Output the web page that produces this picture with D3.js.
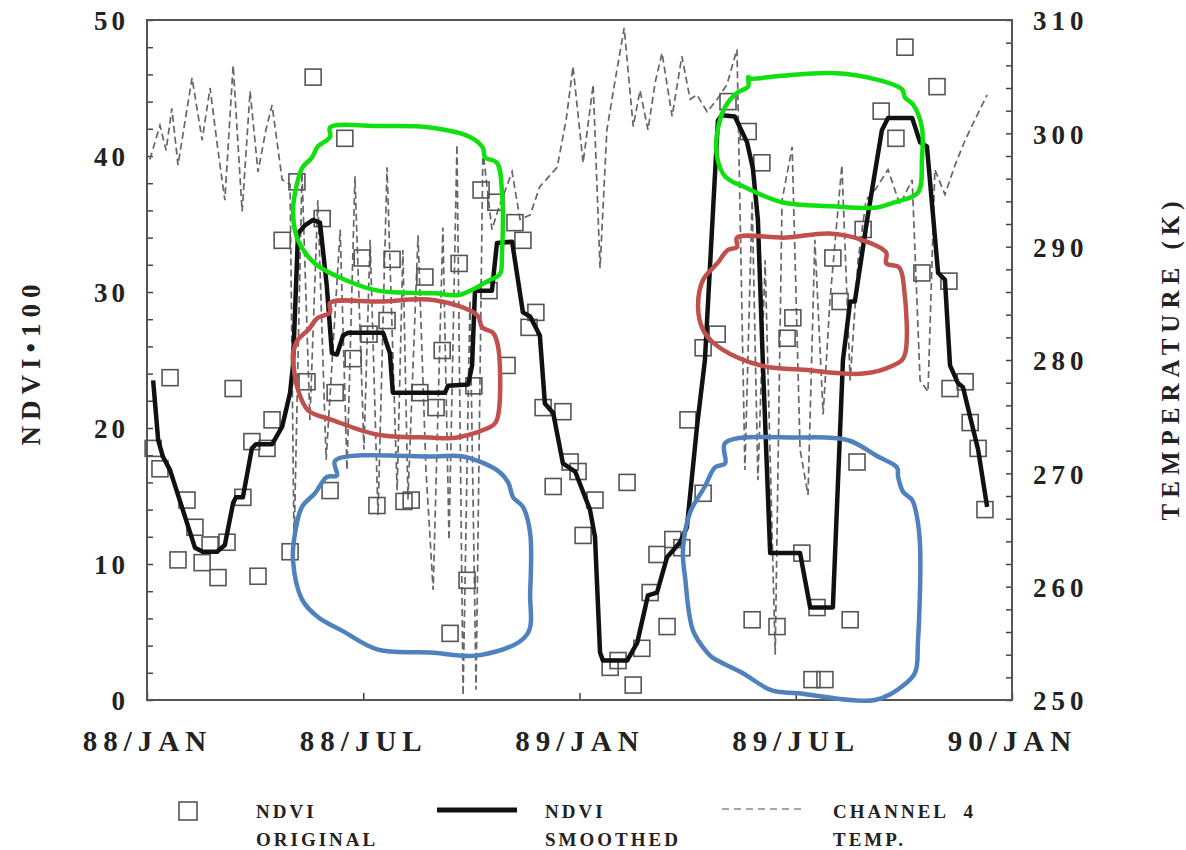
<!DOCTYPE html>
<html>
<head>
<meta charset="utf-8">
<script src="https://cdn.jsdelivr.net/npm/d3@7"></script>
<style>
  body { margin: 0; background: #fff; }
  svg { display: block; }
  .tick text { font-family: "Liberation Serif", "DejaVu Serif", serif; font-weight: bold; fill: #222; }
  .lbl { font-family: "Liberation Serif", "DejaVu Serif", serif; font-weight: bold; fill: #222; }
</style>
</head>
<body>
<div id="chart"></div>
<script>
// x values are months after 88/JAN
const xTickMonth = [0, 6, 12, 18, 24];
const xTickLabel = ['88/JAN', '88/JUL', '89/JAN', '89/JUL', '90/JAN'];

// NDVI original (squares)
const origMonth = [0.17,0.36,0.64,0.86,1.11,1.33,1.53,1.75,1.97,2.22,2.39,2.66,2.91,3.08,3.33,3.47,3.75,3.97,4.16,4.44,4.61,4.86,5.08,5.22,5.49,5.72,5.97,6.16,6.38,6.66,6.80,7.13,7.33,7.57,7.71,8.02,8.19,8.41,8.66,8.88,9.07,9.27,9.49,9.68,9.99,10.21,10.43,10.60,10.79,10.99,11.27,11.54,11.74,11.96,12.10,12.43,12.85,13.07,13.32,13.49,13.73,13.96,14.15,14.43,14.59,14.84,15.01,15.43,15.43,15.82,16.12,16.68,16.79,17.06,17.48,17.76,17.92,18.17,18.45,18.59,18.81,19.03,19.23,19.51,19.70,19.87,20.37,20.78,21.03,21.50,21.92,22.25,22.28,22.70,22.84,23.06,23.25];
const origNdvi  = [18.5,17.0,23.7,10.3,14.7,12.7,10.1,11.4,9.0,11.6,22.9,14.9,19.0,9.1,18.5,20.6,33.8,10.9,38.1,23.4,45.8,35.4,15.4,22.6,41.3,25.1,32.5,26.9,14.3,27.9,32.4,14.6,14.7,22.6,31.1,21.5,25.7,4.9,32.1,8.8,23.1,37.5,30.1,36.6,24.6,35.1,33.8,27.4,28.5,21.5,15.7,21.2,17.5,16.8,12.1,14.7,2.4,2.9,16.0,1.1,3.8,7.9,10.7,5.4,11.8,11.2,20.6,15.2,25.9,26.9,44.0,41.8,5.9,39.5,5.4,26.6,28.1,10.8,1.5,6.8,1.5,32.5,29.3,5.9,17.5,34.6,43.3,41.3,48.0,31.4,45.1,30.8,22.9,23.4,20.4,18.5,14.0];

// NDVI smoothed (thick line)
const smoothMonth = [0.17,0.31,0.44,0.64,1.33,1.55,1.94,2.16,2.39,2.47,2.66,2.91,3.02,3.47,3.75,3.97,4.05,4.19,4.38,4.61,4.80,4.99,5.13,5.27,5.44,5.58,6.55,6.74,6.82,8.27,8.35,8.91,9.02,9.10,9.57,9.71,10.13,10.43,10.63,10.90,11.04,11.27,11.54,11.88,12.29,12.43,12.57,12.65,13.32,13.60,13.90,14.15,14.43,14.79,14.98,15.26,15.48,15.84,15.95,16.31,16.65,16.81,16.95,17.09,17.29,18.12,18.40,19.03,19.31,19.51,19.64,19.98,20.39,20.56,21.23,21.45,21.64,21.95,22.14,22.28,22.50,22.64,23.06,23.31];
const smoothNdvi  = [23.5,19.1,17.9,16.9,11.2,10.9,10.9,11.4,14.5,14.9,14.9,18.5,18.8,18.8,20.1,22.6,24.6,34.3,34.9,35.3,35.1,30.4,25.5,25.4,26.8,27.0,27.0,25.5,22.6,22.6,23.1,23.2,24.6,30.1,30.1,33.6,33.7,28.5,28.2,26.8,21.8,21.1,17.4,16.8,14.0,12.0,3.5,2.9,2.9,4.2,7.7,7.9,10.5,11.6,12.7,20.1,25.0,42.6,43.0,42.9,41.0,39.1,35.3,24.6,10.8,10.8,6.8,6.8,25.0,29.3,29.3,35.3,41.9,42.8,42.8,41.0,40.7,31.4,30.9,24.6,23.3,23.0,18.4,14.2];

// Channel 4 temperature (K), dashed
const tempMonth = [0.08,0.36,0.53,0.69,0.86,1.25,1.53,1.75,1.97,2.16,2.39,2.64,2.86,3.08,3.30,3.47,3.75,3.97,4.08,4.30,4.52,4.74,4.97,5.36,5.55,5.77,6.02,6.19,6.41,6.66,6.94,7.10,7.24,7.52,7.74,7.94,8.21,8.38,8.60,8.77,8.96,9.13,9.32,9.57,9.79,10.13,10.35,10.63,10.90,11.38,11.63,11.82,12.10,12.38,12.57,12.76,12.99,13.24,13.49,13.68,13.90,14.10,14.29,14.57,14.84,15.07,15.26,15.54,15.82,16.09,16.37,16.59,16.79,16.95,17.15,17.43,17.62,17.90,18.12,18.34,18.53,18.76,18.95,19.28,19.51,19.73,19.95,20.20,20.56,20.89,21.23,21.45,21.67,21.86,22.14,22.42,22.70,22.97,23.31];
const tempK     = [297.7,300.7,298.5,302.2,297.2,304.9,299.4,304.0,298.5,294.1,306.0,293.1,303.7,296.6,300.3,302.5,295.9,295.5,263.7,296.6,274.7,294.1,271.2,291.5,270.3,296.2,272.1,290.6,266.3,297.0,268.5,289.7,267.7,291.0,270.3,259.7,291.7,264.1,299.0,250.4,285.3,250.9,298.5,291.5,293.7,296.6,292.4,292.8,295.3,297.0,301.2,305.9,297.4,304.3,288.1,300.3,304.7,309.3,300.6,303.8,300.3,304.5,307.1,301.5,306.8,303.0,303.4,301.9,303.0,304.3,307.4,270.3,294.1,269.4,288.8,254.0,294.1,298.8,272.1,268.1,290.6,275.2,285.3,297.2,278.2,288.8,294.1,295.0,296.8,293.7,295.9,278.2,277.2,296.8,294.6,297.2,299.4,301.2,303.4];

// hand-drawn marks over the figure, [month, NDVI]
const greenMarks = [
  [[5.08,42.1],[6.46,42.2],[7.85,42.1],[8.96,41.4],[9.32,40.6],[9.38,39.9],[9.71,39.5],[9.85,37.3],[9.85,32.9],[9.79,31.3],[9.52,30.9],[8.68,29.8],[7.99,29.9],[6.41,30.1],[5.49,30.9],[4.66,32.1],[4.19,33.8],[4.05,35.8],[4.11,37.3],[4.30,39.1],[4.58,39.9],[4.74,40.7],[5.08,41.4]],
  [[16.73,45.7],[17.62,45.9],[19.01,46.1],[20.28,45.6],[20.95,44.9],[21.03,44.3],[21.25,43.8],[21.50,42.1],[21.50,39.7],[21.39,37.3],[20.75,36.6],[20.20,36.2],[19.01,36.3],[17.62,36.6],[16.59,37.7],[16.04,38.5],[15.82,39.9],[15.82,41.7],[16.04,43.6],[16.40,44.7],[16.68,45.1],[16.68,45.8]]
];
const redMarks = [
  [[5.08,29.2],[6.46,29.3],[7.99,29.4],[9.16,28.3],[9.30,27.4],[9.60,27.0],[9.74,26.0],[9.79,22.1],[9.71,20.6],[9.60,20.2],[8.60,19.3],[7.85,19.3],[6.41,19.5],[5.13,20.6],[4.47,21.3],[4.19,22.8],[4.05,25.0],[4.05,25.5],[4.19,26.5],[4.47,27.2],[4.74,28.1],[5.08,28.5]],
  [[16.37,34.0],[17.73,34.0],[18.92,34.3],[19.87,33.8],[20.51,32.9],[20.51,32.1],[20.87,31.8],[21.00,30.4],[21.00,25.2],[20.70,24.6],[19.87,24.0],[18.12,24.3],[17.20,24.5],[16.37,25.2],[15.70,26.3],[15.43,27.2],[15.29,28.9],[15.43,30.9],[15.82,32.1],[16.12,33.1],[16.37,33.3]]
];
const blueMarks = [
  [[5.22,17.6],[7.99,17.9],[8.77,17.9],[9.71,16.9],[10.02,16.0],[10.16,14.9],[10.43,14.2],[10.63,12.3],[10.63,7.9],[10.54,4.8],[9.24,3.3],[7.85,3.5],[6.41,3.7],[5.41,5.1],[4.74,6.1],[4.30,7.4],[4.05,10.3],[4.11,12.3],[4.30,14.2],[4.66,15.2],[4.99,16.4],[5.27,16.5]],
  [[16.04,18.9],[18.06,19.3],[19.45,19.1],[20.28,17.9],[20.81,17.1],[20.84,16.4],[20.98,15.3],[21.23,14.7],[21.36,13.5],[21.45,11.3],[21.39,4.2],[21.31,2.0],[20.95,1.0],[20.20,0.0],[18.06,0.5],[17.34,0.7],[16.51,2.0],[15.70,3.1],[15.54,3.5],[15.15,5.1],[14.93,9.0],[14.87,11.0],[15.07,13.8],[15.48,15.7],[15.76,17.1],[16.04,17.4]]
];

const W = 1186, H = 850;
const plot = { left: 147, right: 1012, top: 20, bottom: 700 };

const svg = d3.select('#chart').append('svg')
    .attr('width', W)
    .attr('height', H)
    .attr('viewBox', `0 0 ${W} ${H}`);

svg.append('rect').attr('width', W).attr('height', H).attr('fill', '#fff');

const x = d3.scaleLinear().domain([0, 24]).range([plot.left, plot.right]);
const yL = d3.scaleLinear().domain([0, 50]).range([plot.bottom, plot.top]);
const yR = d3.scaleLinear().domain([250, 310]).range([plot.bottom, plot.top]);

// Axes (ticks point inward)
const leftAxis = svg.append('g')
    .attr('transform', `translate(${plot.left},0)`)
    .call(d3.axisLeft(yL)
        .tickValues(d3.range(0, 51, 2))
        .tickSize(-6)
        .tickPadding(18)
        .tickFormat(d => d % 10 === 0 ? d : ''));

const rightAxis = svg.append('g')
    .attr('transform', `translate(${plot.right},0)`)
    .call(d3.axisRight(yR)
        .tickValues(d3.range(250, 311, 2))
        .tickSize(-6)
        .tickPadding(21)
        .tickFormat(d => d % 10 === 0 ? d : ''));

const bottomAxis = svg.append('g')
    .attr('transform', `translate(0,${plot.bottom})`)
    .call(d3.axisBottom(x)
        .tickValues(xTickMonth)
        .tickSize(-7)
        .tickPadding(30)
        .tickFormat((d, i) => xTickLabel[i]));

[leftAxis, rightAxis, bottomAxis].forEach(a => {
    a.select('.domain').remove();
    a.selectAll('.tick line').attr('stroke', '#444').attr('stroke-width', 1.5);
});
leftAxis.selectAll('.tick text').style('font-size', '27px').style('letter-spacing', '4px').attr('dy', '0.36em');
rightAxis.selectAll('.tick text').style('font-size', '27px').style('letter-spacing', '5px').attr('dy', '0.36em');
bottomAxis.selectAll('.tick text').style('font-size', '29px').style('letter-spacing', '6px');

// Frame
svg.append('rect')
    .attr('x', plot.left)
    .attr('y', plot.top)
    .attr('width', plot.right - plot.left)
    .attr('height', plot.bottom - plot.top)
    .attr('fill', 'none')
    .attr('stroke', '#555')
    .attr('stroke-width', 2);

// Axis titles
svg.append('text')
    .attr('class', 'lbl')
    .attr('transform', 'translate(40,362) rotate(-90)')
    .attr('text-anchor', 'middle')
    .style('font-size', '27px')
    .style('letter-spacing', '6px')
    .text('NDVI\u2022100');

svg.append('text')
    .attr('class', 'lbl')
    .attr('transform', 'translate(1179,358) rotate(-90)')
    .attr('text-anchor', 'middle')
    .style('font-size', '25px')
    .style('letter-spacing', '6px')
    .text('TEMPERATURE (K)');

// Channel 4 temperature
const tempData = tempMonth.map((m, i) => ({ m, t: tempK[i] }));
svg.append('path')
    .datum(tempData)
    .attr('fill', 'none')
    .attr('stroke', '#666')
    .attr('stroke-width', 1.7)
    .attr('stroke-dasharray', '7,4')
    .attr('d', d3.line().x(d => x(d.m)).y(d => yR(d.t)));

// NDVI original squares
const origData = origMonth.map((m, i) => ({ m, v: origNdvi[i] }));
const sq = 16;
svg.append('g')
    .selectAll('rect')
    .data(origData)
    .enter()
    .append('rect')
    .attr('x', d => x(d.m) - sq / 2)
    .attr('y', d => yL(d.v) - sq / 2)
    .attr('width', sq)
    .attr('height', sq)
    .attr('fill', 'none')
    .attr('stroke', '#555')
    .attr('stroke-width', 1.6);

// NDVI smoothed
const smoothData = smoothMonth.map((m, i) => ({ m, v: smoothNdvi[i] }));
svg.append('path')
    .datum(smoothData)
    .attr('fill', 'none')
    .attr('stroke', '#111')
    .attr('stroke-width', 4.5)
    .attr('stroke-linejoin', 'round')
    .attr('d', d3.line().x(d => x(d.m)).y(d => yL(d.v)));

// Hand-drawn marks
const markLine = d3.line()
    .x(d => x(d[0]))
    .y(d => yL(d[1]))
    .curve(d3.curveCatmullRomClosed.alpha(0.5));
[[greenMarks, '#10e010'], [redMarks, '#c0504d'], [blueMarks, '#4f81bd']].forEach(([marks, color]) => {
    svg.append('g')
        .selectAll('path')
        .data(marks)
        .enter()
        .append('path')
        .attr('d', markLine)
        .attr('fill', 'none')
        .attr('stroke', color)
        .attr('stroke-width', 4.5)
        .attr('stroke-linejoin', 'round');
});

// Legend
const legend = svg.append('g').attr('class', 'legend');
legend.append('rect')
    .attr('x', 179).attr('y', 802)
    .attr('width', 18).attr('height', 18)
    .attr('fill', 'none').attr('stroke', '#555').attr('stroke-width', 1.6);
legend.append('line')
    .attr('x1', 437).attr('x2', 517).attr('y1', 810).attr('y2', 810)
    .attr('stroke', '#111').attr('stroke-width', 5);
legend.append('line')
    .attr('x1', 722).attr('x2', 806).attr('y1', 809).attr('y2', 809)
    .attr('stroke', '#888').attr('stroke-width', 1.6).attr('stroke-dasharray', '7,5');

const legendText = [
    { x: 256, lines: ['NDVI', 'ORIGINAL'] },
    { x: 545, lines: ['NDVI', 'SMOOTHED'] },
    { x: 833, lines: ['CHANNEL  4', 'TEMP.'] }
];
legendText.forEach(item => {
    item.lines.forEach((t, i) => {
        legend.append('text')
            .attr('class', 'lbl')
            .attr('x', item.x)
            .attr('y', 818 + i * 28)
            .style('font-size', '19px')
            .style('letter-spacing', '3px')
            .style('white-space', 'pre')
            .text(t);
    });
});
</script>
</body>
</html>
